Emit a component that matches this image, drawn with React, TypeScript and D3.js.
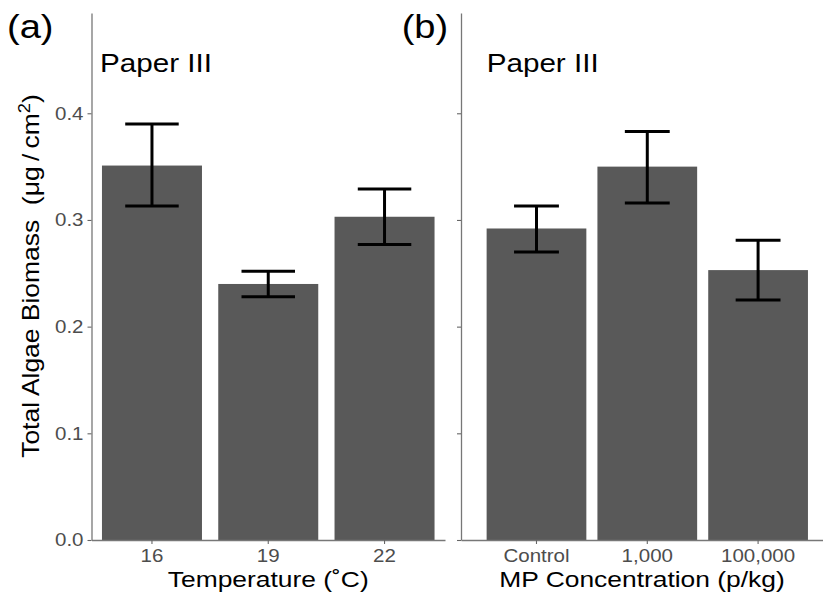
import React, { useRef, useEffect } from 'react';
import * as d3 from 'd3';

// Panel (a): temperature
const tempCats = ['16', '19', '22'];
const tempMean = [0.351, 0.240, 0.303];
const tempLow = [0.313, 0.228, 0.277];
const tempHigh = [0.390, 0.252, 0.329];

// Panel (b): microplastic concentration
const mpCats = ['Control', '1,000', '100,000'];
const mpMean = [0.292, 0.350, 0.253];
const mpLow = [0.270, 0.316, 0.225];
const mpHigh = [0.313, 0.383, 0.281];

const yTicks = [0, 0.1, 0.2, 0.3, 0.4];
const yMax = 0.494;

const FONT = '"Liberation Sans", Arial, Helvetica, sans-serif';

const App = () => {
  const svgRef = useRef<SVGSVGElement | null>(null);

  useEffect(() => {
    if (!svgRef.current) return;
    const svg = d3.select(svgRef.current);
    svg.selectAll('*').remove();

    const width = 823;
    const height = 598;
    svg.attr('width', width).attr('height', height);

    const y = d3.scaleLinear().domain([0, yMax]).range([540, 13]);

    const panels = [
      {
        tag: '(a)', tagX: 7, noteX: 100,
        cats: tempCats, mean: tempMean, low: tempLow, high: tempHigh,
        x0: 91.5, x1: 445, padIn: 0.14, padOut: 0.09, align: 0.5, cap: 0.535,
        title: 'Temperature (\u02DAC)', yLabels: true,
      },
      {
        tag: '(b)', tagX: 401.7, noteX: 486.7,
        cats: mpCats, mean: mpMean, low: mpLow, high: mpHigh,
        x0: 461, x1: 823, padIn: 0.1, padOut: 0.1835, align: 0.63, cap: 0.45,
        title: 'MP Concentration (p/kg)', yLabels: false,
      },
    ];

    const addText = (txt: string, x: number, yy: number, size: number, sx: number, anchor = 'start', fill = '#000') =>
      svg.append('text')
        .attr('transform', `translate(${x},${yy}) scale(${sx},1)`)
        .attr('text-anchor', anchor)
        .attr('font-family', FONT)
        .attr('font-size', size)
        .attr('fill', fill)
        .text(txt);

    panels.forEach(p => {
      const x = d3.scaleBand<string>()
        .domain(p.cats)
        .range([p.x0, p.x1])
        .paddingInner(p.padIn)
        .paddingOuter(p.padOut)
        .align(p.align);
      const bw = x.bandwidth();
      const g = svg.append('g');

      // bars
      g.selectAll('rect.bar')
        .data(p.cats)
        .enter()
        .append('rect')
        .attr('class', 'bar')
        .attr('x', d => x(d)!)
        .attr('y', (d, i) => y(p.mean[i]))
        .attr('width', bw)
        .attr('height', (d, i) => y(0) - y(p.mean[i]))
        .attr('fill', '#595959');

      // error bars
      const eb = g.selectAll('g.err')
        .data(p.cats)
        .enter()
        .append('g')
        .attr('class', 'err')
        .attr('transform', d => `translate(${x(d)! + bw / 2},0)`)
        .attr('stroke', '#000')
        .attr('stroke-width', 3);
      eb.append('line')
        .attr('y1', (d, i) => y(p.low[i]))
        .attr('y2', (d, i) => y(p.high[i]));
      eb.append('line')
        .attr('x1', -bw * p.cap / 2).attr('x2', bw * p.cap / 2)
        .attr('y1', (d, i) => y(p.high[i])).attr('y2', (d, i) => y(p.high[i]));
      eb.append('line')
        .attr('x1', -bw * p.cap / 2).attr('x2', bw * p.cap / 2)
        .attr('y1', (d, i) => y(p.low[i])).attr('y2', (d, i) => y(p.low[i]));

      // y axis
      const ya = svg.append('g')
        .attr('transform', `translate(${p.x0},0)`)
        .call(d3.axisLeft(y)
          .tickValues(yTicks)
          .tickSize(4)
          .tickSizeOuter(0)
          .tickPadding(3)
          .tickFormat(p.yLabels ? (d3.format('.1f') as any) : () => ''));
      ya.select('.domain').attr('stroke', '#777').attr('stroke-width', 1.3);
      ya.selectAll('.tick line').attr('stroke', '#666').attr('stroke-width', 1.1);
      ya.selectAll('.tick text')
        .attr('font-family', FONT)
        .attr('font-size', 18)
        .attr('fill', '#4d4d4d')
        .attr('transform', 'scale(1.14,1)');

      // x axis
      const xa = svg.append('g')
        .attr('transform', `translate(0,${y(0)})`)
        .call(d3.axisBottom(x).tickSize(4).tickSizeOuter(0).tickPadding(5));
      xa.select('.domain').attr('stroke', '#777').attr('stroke-width', 1.3);
      xa.selectAll('.tick line').attr('stroke', '#666').attr('stroke-width', 1.1);
      xa.selectAll('.tick text')
        .attr('font-family', FONT)
        .attr('font-size', 18)
        .attr('fill', '#4d4d4d')
        .attr('transform', 'scale(1.14,1)');

      // labels
      addText(p.tag, p.tagX, 38, 34, 1.12);
      addText('Paper III', p.noteX, 71.7, 26, 1.14);
      addText(p.title, (p.x0 + p.x1) / 2, 586.7, 22, 1.2, 'middle');
    });

    // y axis title
    const yt = svg.append('text')
      .attr('transform', 'translate(39,276) rotate(-90) scale(1.15,1)')
      .attr('text-anchor', 'middle')
      .attr('font-family', FONT)
      .attr('font-size', 23)
      .attr('fill', '#000')
      .style('white-space', 'pre');
    yt.append('tspan').text('Total Algae Biomass  (\u03BCg\u2009/\u2009cm');
    yt.append('tspan').attr('dy', -9).attr('font-size', 16).text('2');
    yt.append('tspan').attr('dy', 9).text(')');
  }, []);

  return (
    <svg ref={svgRef} style={{ position: 'absolute', left: 0, top: 0, background: '#fff' }}></svg>
  );
};

export default App;
